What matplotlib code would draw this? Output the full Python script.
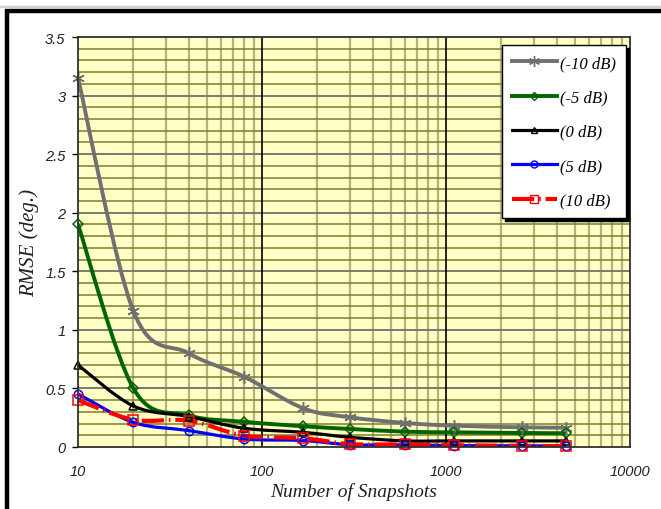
import numpy as np
import matplotlib
matplotlib.use("Agg")
import matplotlib.pyplot as plt
from matplotlib.path import Path
from matplotlib.patches import PathPatch, Rectangle
from matplotlib.lines import Line2D
from matplotlib.ticker import FixedLocator, NullFormatter

plt.rcParams['lines.scale_dashes'] = False

snapshots = [10, 20, 40, 80, 168, 300, 600, 1100, 2600, 4500]
rmse_m10 = [3.15, 1.16, 0.80, 0.60, 0.33, 0.254, 0.205, 0.182, 0.168, 0.165]
rmse_m5 = [1.90, 0.50, 0.27, 0.215, 0.177, 0.154, 0.131, 0.125, 0.12, 0.117]
rmse_0 = [0.70, 0.35, 0.26, 0.16, 0.125, 0.083, 0.052, 0.052, 0.052, 0.052]
rmse_5 = [0.453, 0.21, 0.14, 0.068, 0.055, 0.02, 0.018, 0.012, 0.01, 0.008]
rmse_10 = [0.40, 0.233, 0.225, 0.097, 0.075, 0.025, 0.022, 0.015, 0.01, 0.006]
labels = ['(-10 dB)', '(-5 dB)', '(0 dB)', '(5 dB)', '(10 dB)']


def smooth_path(xs, ys):
    # Catmull-Rom style bezier through points, built in log-x space
    u = np.log10(np.asarray(xs, float))
    v = np.asarray(ys, float)
    P = np.column_stack([u, v])
    n = len(P)
    verts = [P[0]]
    codes = [Path.MOVETO]
    for i in range(n - 1):
        p0 = P[i - 1] if i > 0 else P[i]
        p1, p2 = P[i], P[i + 1]
        p3 = P[i + 2] if i + 2 < n else P[i + 1]
        c1 = p1 + (p2 - p0) / 6.0
        c2 = p2 - (p3 - p1) / 6.0
        verts += [c1, c2, p2]
        codes += [Path.CURVE4] * 3
    verts = np.array(verts)
    verts[:, 0] = 10 ** verts[:, 0]
    return Path(verts, codes)


fig = plt.figure(figsize=(6.61, 5.10), dpi=100)
ax = fig.add_axes([78 / 661, 1 - 448 / 510, 552 / 661, 410 / 510])
ax.set_facecolor('#ffffc6')
ax.set_xscale('log')
ax.set_xlim(10, 10000)
ax.set_ylim(0, 3.5)

# grid
minors_x = [m * 10 ** d for d in (1, 2, 3) for m in range(2, 10)]
for xv in minors_x:
    ax.axvline(xv, color='#b4b478', lw=1.6, zorder=1)
for xv in (100, 1000):
    ax.axvline(xv, color='black', lw=1.2, zorder=1.5)
for yv in np.arange(0.1, 3.5, 0.1):
    if abs(yv * 2 - round(yv * 2)) < 1e-6:
        ax.axhline(yv, color='#7a7a70', lw=1.4, zorder=1.2)
    else:
        ax.axhline(yv, color='#7c7c30', lw=1.1, zorder=1.2)

series = [
    (rmse_m10, '#707070', 2.8, (6, 2, 0), 9, '-'),
    (rmse_m5, '#006400', 2.8, 'D', 5, '-'),
    (rmse_0, 'black', 2.3, '^', 6, '-'),
    (rmse_5, '#0000ff', 2.3, 'o', 6, '-'),
    (rmse_10, '#ff0000', 3.0, 's', 7, (0, (16, 3.5, 1.2, 3.5))),
]

handles = []
for (vals, col, lw, mk, ms, ls), lab in zip(series, labels):
    patch = PathPatch(smooth_path(snapshots, vals), fill=False, edgecolor=col,
                      lw=lw, linestyle=ls, zorder=3, capstyle='butt')
    ax.add_patch(patch)
    ax.plot(snapshots, vals, linestyle='none', marker=mk, markersize=ms,
            markerfacecolor='none', markeredgecolor=col, markeredgewidth=1.1,
            zorder=4, clip_on=False)
    handles.append(Line2D([], [], color=col, lw=lw, linestyle=ls, marker=mk,
                          markersize=ms - 1, markerfacecolor='none',
                          markeredgecolor=col, markeredgewidth=1.0))

for s in ax.spines.values():
    s.set_color('#303030')
    s.set_linewidth(1.3)
    s.set_zorder(5)

ax.yaxis.set_major_locator(FixedLocator(np.arange(0, 3.51, 0.5)))
ax.set_yticklabels(['0', '0.5', '1', '1.5', '2', '2.5', '3', '3.5'])
ax.xaxis.set_major_locator(FixedLocator([10, 100, 1000, 10000]))
ax.set_xticklabels(['10', '100', '1000', '10000'])
ax.xaxis.set_minor_formatter(NullFormatter())
ax.tick_params(axis='x', which='both', length=0, pad=12)
ax.tick_params(axis='y', which='major', length=4, width=1, direction='out', pad=5)
ax.tick_params(axis='y', which='minor', length=0)
for t in ax.get_xticklabels() + ax.get_yticklabels():
    t.set_fontfamily('Liberation Sans')
    t.set_fontstyle('italic')
    t.set_fontsize(10.5)
    t.set_color('#202020')

ax.set_xlabel('Number of Snapshots', family='Liberation Serif', style='italic',
              fontsize=14, labelpad=3, color='#202020')
ax.set_ylabel('RMSE (deg.)', family='Liberation Serif', style='italic',
              fontsize=15, labelpad=4, color='#202020')

leg = ax.legend(handles, labels, loc='upper right',
                bbox_to_anchor=(626 / 661, 1 - 46 / 510),
                bbox_transform=fig.transFigure, borderaxespad=0,
                prop={'family': 'Liberation Serif', 'style': 'italic', 'size': 12},
                handlelength=2.7, handletextpad=0.2, labelspacing=1.1,
                borderpad=0.6, fancybox=False, framealpha=1,
                edgecolor='black', shadow={'color': 'black', 'alpha': 1, 'ox': 2, 'oy': -2})
leg.get_frame().set_linewidth(1.0)
leg.set_zorder(10)

# outer chart frame (cropped at right and bottom)
fig.patches.append(Rectangle((7 / 661, -0.1), 1.2, 1 - 11.5 / 510 + 0.1,
                             transform=fig.transFigure, fill=False,
                             edgecolor='black', lw=3.2, zorder=0))
fig.patches.append(Rectangle((0, 1 - 8 / 510), 1, 0.002,
                             transform=fig.transFigure, color='#d0d0d0', zorder=0))

fig.savefig('out.png', dpi=100)
